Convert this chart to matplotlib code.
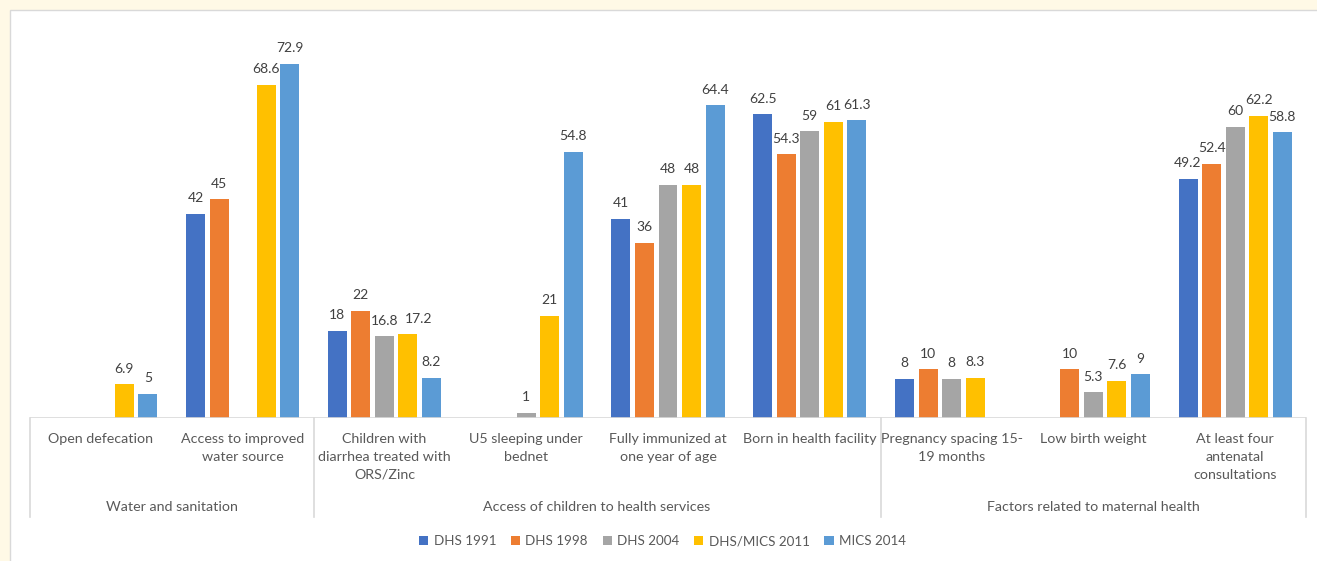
import numpy as np
import matplotlib.pyplot as plt
from matplotlib.patches import Rectangle

categories = ["Open defecation", "Access to improved\nwater source",
              "Children with\ndiarrhea treated with\nORS/Zinc", "U5 sleeping under\nbednet",
              "Fully immunized at\none year of age", "Born in health facility",
              "Pregnancy spacing 15-\n19 months", "Low birth weight",
              "At least four\nantenatal\nconsultations"]
groups = ["Water and sanitation", "Access of children to health services",
          "Factors related to maternal health"]
group_sizes = [2, 4, 3]

series = ["DHS 1991", "DHS 1998", "DHS 2004", "DHS/MICS 2011", "MICS 2014"]
dhs_1991 = [None, 42, 18, None, 41, 62.5, 8, None, 49.2]
dhs_1998 = [None, 45, 22, None, 36, 54.3, 10, 10, 52.4]
dhs_2004 = [None, None, 16.8, 1, 48, 59, 8, 5.3, 60]
dhs_mics_2011 = [6.9, 68.6, 17.2, 21, 48, 61, 8.3, 7.6, 62.2]
mics_2014 = [5, 72.9, 8.2, 54.8, 64.4, 61.3, None, 9, 58.8]
values = [dhs_1991, dhs_1998, dhs_2004, dhs_mics_2011, mics_2014]
colors = ["#4472C4", "#ED7D31", "#A5A5A5", "#FFC000", "#5B9BD5"]

plt.rcParams['font.family'] = ['Lato', 'DejaVu Sans']

fig = plt.figure(figsize=(13.17, 5.61), dpi=100, facecolor="#FFF9E6")
# white chart area with grey border
bg = Rectangle((10 / 1317, -0.01), 1.0, 1 - 10 / 561 + 0.01,
               transform=fig.transFigure, facecolor="white",
               edgecolor="#D9D9D9", linewidth=1, zorder=-10)
fig.patches.append(bg)

ax = fig.add_axes([30 / 1317, 1 - 418 / 561, 1276 / 1317, 388.5 / 561])
ax.set_facecolor("none")

x = np.arange(len(categories))
width = 0.134
step = 0.166
for i, (name, vals, c) in enumerate(zip(series, values, colors)):
    idx = [k for k, v in enumerate(vals) if v is not None]
    xs = [x[k] + (i - 2) * step for k in idx]
    ys = [vals[k] for k in idx]
    bars = ax.bar(xs, ys, width, color=c, label=name, zorder=2)
    anns = ax.bar_label(bars, labels=[f"{v:g}" for v in ys], padding=7,
                        fontsize=10, color="#404040")
    # nudge crowded label (as Excel does) so it does not collide
    for k, a in zip(idx, anns):
        if name == "DHS/MICS 2011" and k == 2:
            a.xyann = (8, a.xyann[1])

ax.set_xlim(-0.5, len(categories) - 0.5)
ax.set_ylim(0, 80)
for s in ax.spines.values():
    s.set_visible(False)
ax.set_yticks([])
ax.set_xticks([])

# baseline
ax.axhline(0, color="#D9D9D9", linewidth=1.2, zorder=3)

tr = ax.get_xaxis_transform()
for xi, lab in zip(x, categories):
    ax.text(xi, -0.039, lab, transform=tr, ha="center", va="top",
            fontsize=10.3, color="#595959", linespacing=1.59)

# group separators and labels
edges = np.concatenate([[0], np.cumsum(group_sizes)]) - 0.5
for e in edges:
    ax.plot([e, e], [0, -0.255], transform=tr, color="#D9D9D9",
            linewidth=1.2, clip_on=False)
for g, a, b in zip(groups, edges[:-1], edges[1:]):
    ax.text((a + b) / 2, -0.229, g, transform=tr, ha="center", va="center",
            fontsize=10.3, color="#595959")

fig.legend(loc="center", bbox_to_anchor=(0.503, 1 - 541 / 561), ncol=5,
           frameon=False, fontsize=9.6, handlelength=0.7, handleheight=0.7,
           handletextpad=0.4, columnspacing=1.1, labelcolor="#595959")

fig.savefig("out.png", dpi=100, facecolor=fig.get_facecolor())
